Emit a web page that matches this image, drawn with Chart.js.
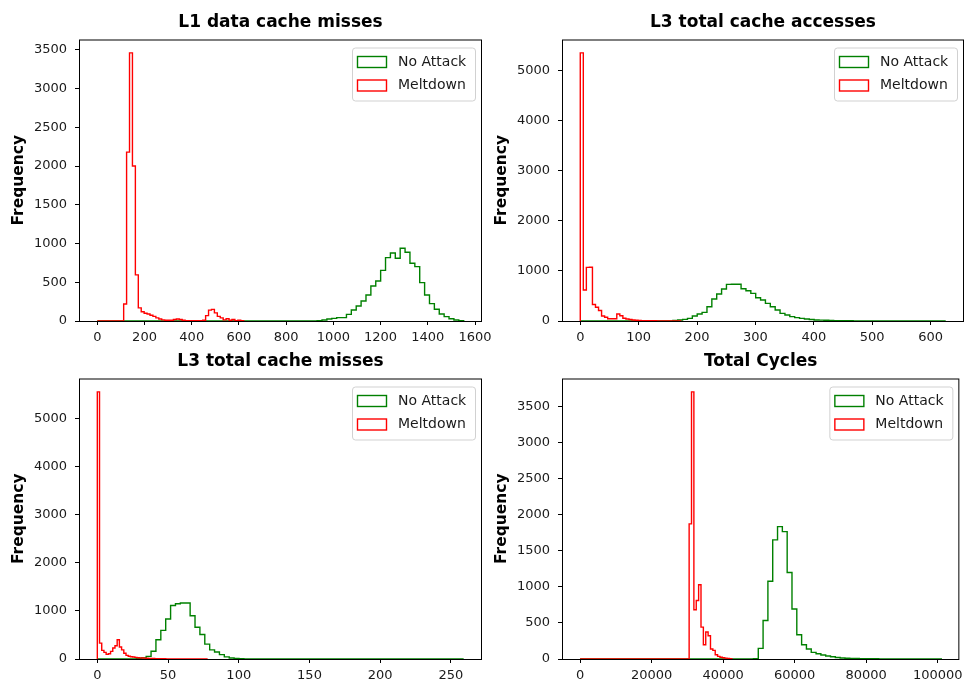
<!DOCTYPE html>
<html>
<head>
<meta charset="utf-8">
<title>Meltdown histograms</title>
<script src="https://cdn.jsdelivr.net/npm/chart.js@4.4.1/dist/chart.umd.min.js"></script>
<style>
  html, body { margin: 0; padding: 0; background: #fff; }
  body { position: relative; width: 967px; height: 686px; overflow: hidden; }
  .panel { position: absolute; }
</style>
</head>
<body>
<canvas class="panel" id="l1Chart" width="500" height="350" style="left:0;top:0"></canvas>
<canvas class="panel" id="l3aChart" width="485" height="350" style="left:483px;top:0"></canvas>
<canvas class="panel" id="l3mChart" width="500" height="346" style="left:0;top:340px"></canvas>
<canvas class="panel" id="ccChart" width="485" height="346" style="left:483px;top:340px"></canvas>
<script>
// histogram bins: lo/hi = data range, bins = bin count, first = first bin listed in the counts
const l1NoAttackBins = { lo: 0, hi: 1552, bins: 75, first: 45 };
const l1NoAttack = [5, 13, 25, 34, 43, 43, 86, 142, 194, 258, 336, 452, 517, 654, 818, 878, 809, 938, 887, 745,
  702, 495, 336, 224, 151, 90, 56, 30, 13, 5];
const l1MeltdownBins = { lo: 0, hi: 620, bins: 50, first: 9 };
const l1Meltdown = [220, 2180, 3460, 2000, 595, 170, 120, 100, 90, 75, 60, 40, 25, 15, 10, 10, 10, 20, 25, 20,
  10, 5, 5, 5, 5, 5, 5, 10, 70, 140, 150, 105, 60, 40, 15, 30, 10, 20, 5, 10, 5];

const l3aNoAttackBins = { lo: 0, hi: 626, bins: 75, first: 19 };
const l3aNoAttack = [10, 20, 33, 53, 100, 140, 173, 286, 440, 540, 640, 732, 735, 735, 646, 606, 553, 466, 420, 353,
  286, 220, 153, 120, 87, 67, 53, 40, 30, 20, 18, 15, 12, 7, 6, 5, 4, 3, 2];
const l3aMeltdownBins = { lo: 0, hi: 172, bins: 33, first: 0 };
const l3aMeltdown = [5360, 620, 1072, 1075, 330, 275, 210, 100, 74, 46, 46, 46, 140, 105, 55, 40, 30, 20, 15, 10,
  8, 6, 5, 4, 4, 3, 3, 2, 2, 2, 1, 1, 1];

const l3mNoAttackBins = { lo: 0, hi: 259, bins: 75, first: 8 };
const l3mNoAttack = [10, 20, 55, 160, 400, 595, 830, 1113, 1148, 1162, 1162, 900, 660, 510, 310, 190, 145, 90, 45, 22,
  10, 8, 3, 2, 1, 1, 1, 1, 1, 1, 1, 1, 3, 3, 3, 3, 3, 3, 3, 3, 1, 2];
const l3mMeltdownBins = { lo: 0, hi: 78, bins: 50, first: 0 };
const l3mMeltdown = [5550, 330, 180, 138, 96, 110, 158, 228, 276, 400, 250, 190, 120, 75, 58, 48, 41, 33, 27, 24,
  20, 18, 16, 14, 12, 10, 8, 7, 6, 5, 4, 3, 3, 2, 2, 2, 1, 1, 1, 1];

const ccNoAttackBins = { lo: 0, hi: 101000, bins: 75, first: 36 };
const ccNoAttack = [5, 147, 535, 1080, 1653, 1838, 1768, 1200, 693, 337, 198, 139, 92, 73, 55, 42, 32, 20, 14, 10,
  8, 6, 5, 4, 3, 3, 2, 2, 2, 2, 2, 1, 1, 1, 1, 1, 1, 1, 1];
const ccMeltdownBins = { lo: 0, hi: 42432, bins: 64, first: 46 };
const ccMeltdown = [1875, 3708, 683, 812, 1030, 443, 198, 374, 323, 139, 120, 60, 37, 25, 18, 12, 8, 5];

// tick labels
const l1XTicks = [0, 200, 400, 600, 800, 1000, 1200, 1400, 1600];
const l1YTicks = [0, 500, 1000, 1500, 2000, 2500, 3000, 3500];
const l3aXTicks = [0, 100, 200, 300, 400, 500, 600];
const l3aYTicks = [0, 1000, 2000, 3000, 4000, 5000];
const l3mXTicks = [0, 50, 100, 150, 200, 250];
const l3mYTicks = [0, 1000, 2000, 3000, 4000, 5000];
const ccXTicks = [0, 20000, 40000, 60000, 80000, 100000];
const ccYTicks = [0, 500, 1000, 1500, 2000, 2500, 3000, 3500];

Chart.defaults.font.family = "'DejaVu Sans', sans-serif";
Chart.defaults.color = "#1a1a1a";

// outline of a step histogram, from bin edges
function stepPoints(b, counts) {
  const w = (b.hi - b.lo) / b.bins;
  const pts = [{ x: b.lo, y: 0 }];
  counts.forEach((c, i) => pts.push({ x: b.lo + (b.first + i) * w, y: c }));
  const end = b.lo + (b.first + counts.length) * w;
  pts.push({ x: end, y: 0 });
  if (end < b.hi) pts.push({ x: b.hi, y: 0 });
  return pts;
}

// axes frame + boxed legend in the upper right corner
const frameAndLegend = {
  id: "frameAndLegend",
  afterDraw(chart) {
    const { ctx, chartArea: a } = chart;
    ctx.save();
    ctx.strokeStyle = "#000";
    ctx.lineWidth = 1;
    ctx.strokeRect(a.left + 0.5, a.top + 0.5, a.width - 1, a.height);

    const w = 123, h = 53;
    const x = a.right - 7 - w, y = a.top + 8;
    ctx.beginPath();
    ctx.roundRect(x + 0.5, y + 0.5, w, h, 3);
    ctx.fillStyle = "rgba(255,255,255,0.8)";
    ctx.fill();
    ctx.strokeStyle = "rgba(204,204,204,0.9)";
    ctx.stroke();

    ctx.font = "14px 'DejaVu Sans'";
    ctx.textBaseline = "middle";
    chart.data.datasets.forEach((ds, i) => {
      const cy = y + 14.5 + i * 23.5;
      ctx.strokeStyle = ds.borderColor;
      ctx.lineWidth = 1.4;
      ctx.strokeRect(x + 5.5, cy - 5.5, 29, 11);
      ctx.fillStyle = "#1a1a1a";
      ctx.fillText(ds.label, x + 46, cy);
    });
    ctx.restore();
  },
};

function makeChart(id, title, titlePad, series, xTicks, yTicks, pad) {
  const lo = Math.min(...series.map((s) => s.bins.lo));
  const hi = Math.max(...series.map((s) => s.bins.hi));
  const span = hi - lo;
  const top = Math.max(...series.flatMap((s) => s.counts));

  const datasets = series.map((s) => ({
    label: s.label,
    data: stepPoints(s.bins, s.counts),
    borderColor: s.color,
    borderWidth: 1.4,
    pointRadius: 0,
    fill: false,
    stepped: "before",
    order: s.order,
  }));

  const grid = { display: true, drawOnChartArea: false, drawTicks: true, tickLength: 4, color: "#000", lineWidth: 1 };

  new Chart(document.getElementById(id), {
    type: "line",
    data: { datasets },
    options: {
      responsive: false,
      animation: false,
      events: [],
      layout: { padding: pad },
      plugins: {
        legend: { display: false },
        tooltip: { enabled: false },
        title: {
          display: true,
          fullSize: false, // centre over the plot area
          text: title,
          color: "#000",
          font: { size: 17, weight: "bold" },
          padding: titlePad,
        },
      },
      scales: {
        x: {
          type: "linear",
          min: lo - 0.05 * span,
          max: hi + 0.05 * span,
          afterBuildTicks: (s) => { s.ticks = xTicks.map((v) => ({ value: v })); },
          afterFit: (s) => { s.height = 25; },
          ticks: { callback: (v) => String(v), font: { size: 13 }, padding: 5, maxRotation: 0, autoSkip: false },
          grid: grid,
          border: { display: false },
        },
        y: {
          type: "linear",
          min: 0,
          max: top * 1.05,
          afterBuildTicks: (s) => { s.ticks = yTicks.map((v) => ({ value: v })); },
          afterFit: (s) => { s.width = 79; },
          ticks: { callback: (v) => String(v), font: { size: 13 }, padding: 8, autoSkip: false },
          grid: grid,
          border: { display: false },
          title: {
            display: true,
            text: "Frequency",
            color: "#000",
            font: { size: 15.5, weight: "bold" },
            padding: { top: 10, bottom: 0 },
          },
        },
      },
    },
    plugins: [frameAndLegend],
  });
}

function pair(noBins, noCounts, mdBins, mdCounts) {
  return [
    { label: "No Attack", bins: noBins, counts: noCounts, color: "#008000", order: 1 },
    { label: "Meltdown", bins: mdBins, counts: mdCounts, color: "#ff0000", order: 0 },
  ];
}

makeChart("l1Chart", "L1 data cache misses", { top: 12.5, bottom: 6.6 },
  pair(l1NoAttackBins, l1NoAttack, l1MeltdownBins, l1Meltdown), l1XTicks, l1YTicks,
  { left: 0, right: 18, top: 0, bottom: 4 });

makeChart("l3aChart", "L3 total cache accesses", { top: 12.5, bottom: 6.6 },
  pair(l3aNoAttackBins, l3aNoAttack, l3aMeltdownBins, l3aMeltdown), l3aXTicks, l3aYTicks,
  { left: 0, right: 4, top: 0, bottom: 4 });

makeChart("l3mChart", "L3 total cache misses", { top: 11.5, bottom: 6.6 },
  pair(l3mNoAttackBins, l3mNoAttack, l3mMeltdownBins, l3mMeltdown), l3mXTicks, l3mYTicks,
  { left: 0, right: 18, top: 0, bottom: 2 });

makeChart("ccChart", "Total Cycles", { top: 11.5, bottom: 6.6 },
  pair(ccNoAttackBins, ccNoAttack, ccMeltdownBins, ccMeltdown), ccXTicks, ccYTicks,
  { left: 0, right: 4, top: 0, bottom: 2 });
</script>
</body>
</html>
